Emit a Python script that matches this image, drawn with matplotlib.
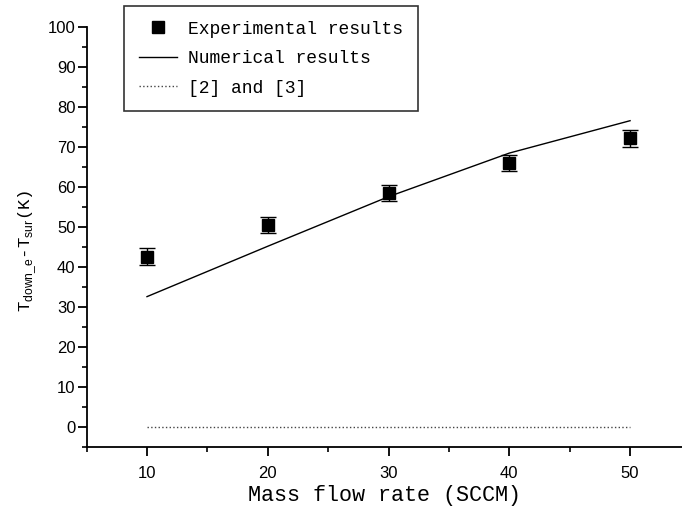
import matplotlib
matplotlib.use("Agg")
import matplotlib.pyplot as plt
from matplotlib.ticker import MultipleLocator

# Data
flow_rate = [10, 20, 30, 40, 50]
exp_values = [42.6, 50.5, 58.5, 66.0, 72.2]
exp_errors = [2.1, 2.1, 2.1, 2.0, 2.1]
num_values = [32.6, 45.2, 57.6, 68.5, 76.6]
ref_values = [0, 0, 0, 0, 0]

legend_labels = ["Experimental results", "Numerical results", "[2] and [3]"]
xlabel = "Mass flow rate (SCCM)"
ylabel = r"T$_{\mathsf{down\_e}}$-T$_{\mathsf{sur}}$(K)"

plt.rcParams['mathtext.fontset'] = 'custom'
plt.rcParams['mathtext.sf'] = 'Liberation Sans'
plt.rcParams['mathtext.rm'] = 'Liberation Mono'

mono = "Liberation Mono"

fig = plt.figure(figsize=(6.82, 5.12), dpi=100)
ax = fig.add_axes([0.127, 0.127, 0.873, 0.820])

ax.errorbar(flow_rate, exp_values, yerr=exp_errors, fmt='s', color='black',
            markersize=8, capsize=6, elinewidth=1, capthick=1,
            label=legend_labels[0], zorder=3)
ln, = ax.plot(flow_rate, num_values, '-', color='black', lw=1.0, label=legend_labels[1])
dl, = ax.plot(flow_rate, ref_values, ':', color='#444444', lw=1.0, label=legend_labels[2])

ax.set_xlim(5, 54.3)
ax.set_ylim(-5, 100)
ax.xaxis.set_minor_locator(MultipleLocator(5))
ax.yaxis.set_minor_locator(MultipleLocator(5))
ax.set_xticks([10, 20, 30, 40, 50])
ax.set_yticks(range(0, 101, 10))

ax.spines['top'].set_visible(False)
ax.spines['right'].set_visible(False)
for s in ('left', 'bottom'):
    ax.spines[s].set_linewidth(1.3)

ax.tick_params(axis='both', which='major', direction='out', length=6.5, width=1.3,
               labelsize=12)
ax.tick_params(axis='x', which='major', pad=7)
ax.tick_params(axis='y', which='major', pad=1.5)
ax.tick_params(axis='both', which='minor', direction='out', length=3.6, width=1.2)
for lab in ax.get_xticklabels() + ax.get_yticklabels():
    lab.set_fontfamily('Liberation Sans')

ax.set_xlabel(xlabel, fontsize=15.7, fontfamily=mono, labelpad=3)
ax.set_ylabel(ylabel, fontsize=12.5, fontfamily=mono)
ax.yaxis.set_label_coords(-0.08, 0.467)

handles = [ax.errorbar([], [], fmt='s', color='black', markersize=8)[0], ln, dl]
leg = fig.legend(handles, legend_labels, loc='upper left',
                 bbox_to_anchor=(0.182, 0.988), bbox_transform=fig.transFigure,
                 borderaxespad=0, frameon=True, fancybox=False, edgecolor='black',
                 prop={'family': mono, 'size': 13}, handlelength=2.15,
                 handletextpad=0.6, borderpad=0.8, labelspacing=0.69)
leg.get_frame().set_linewidth(1.2)

fig.savefig("out.png", dpi=100)
